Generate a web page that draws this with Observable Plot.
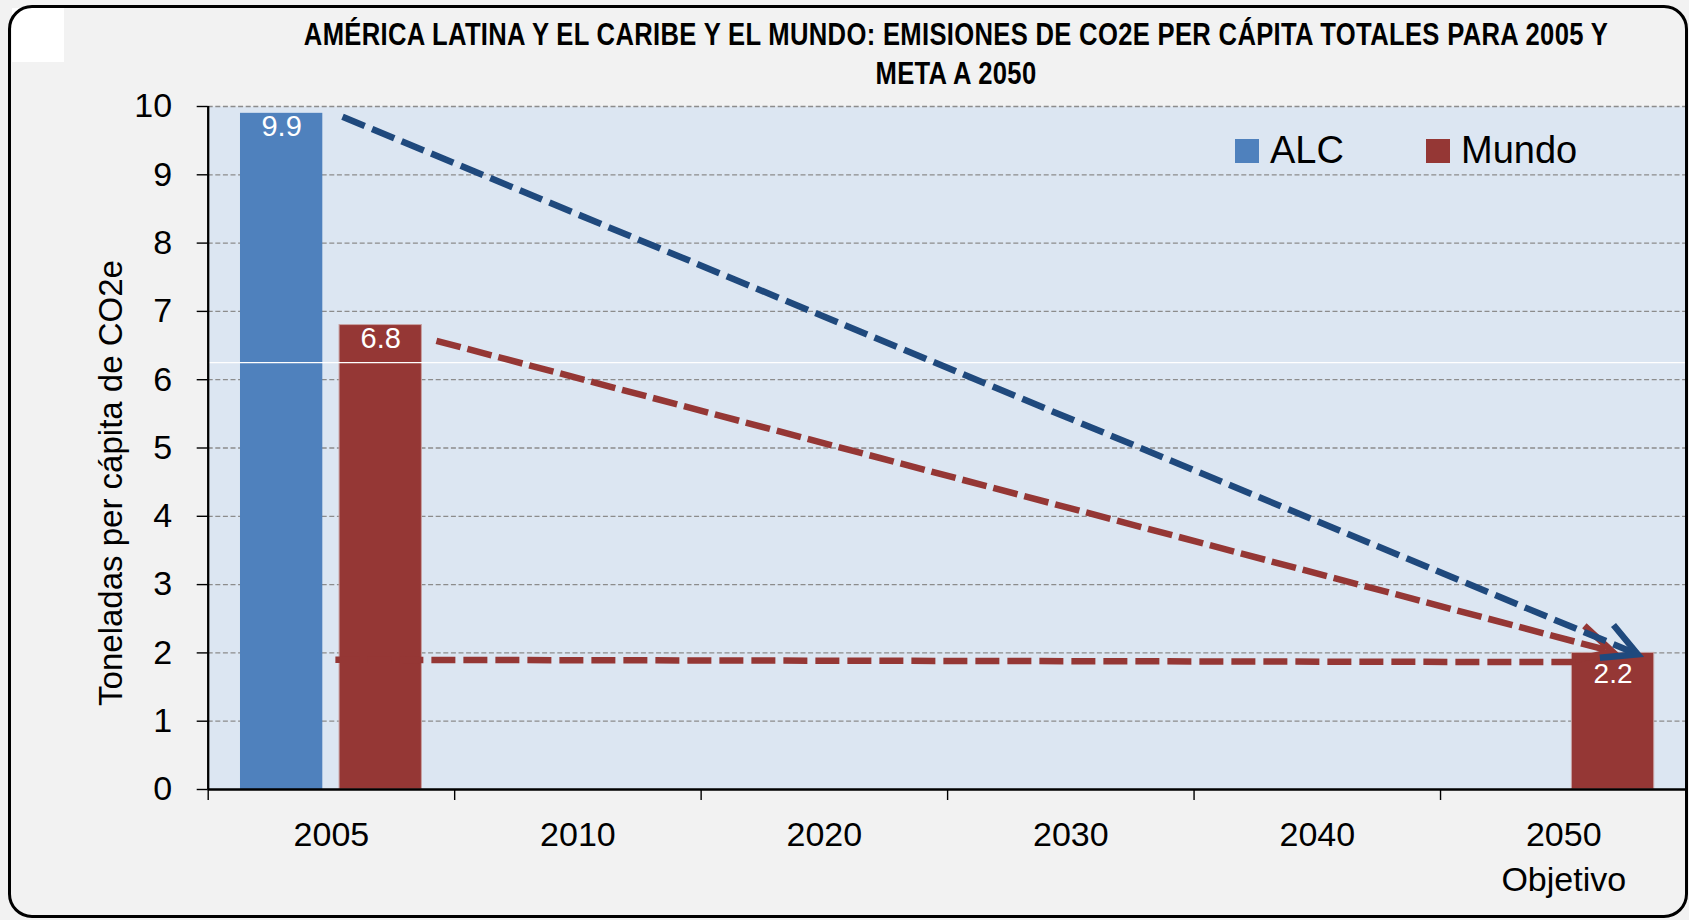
<!DOCTYPE html>
<html>
<head>
<meta charset="utf-8">
<script src="https://cdn.jsdelivr.net/npm/d3@7"></script>
<script src="https://cdn.jsdelivr.net/npm/@observablehq/plot@0.6"></script>
<style>
  html, body { margin: 0; padding: 0; background: #f2f2f2; overflow: hidden; }
  #wrap { position: relative; width: 1689px; height: 920px; background: #f2f2f2; overflow: hidden; }
  #chart { position: absolute; left: 0; top: 0; }
  .title-line { position: absolute; white-space: nowrap; font-weight: bold; color: #000; line-height: 1; }
  .legend-item { position: absolute; white-space: nowrap; line-height: 1; color: #000; }
  .swatch { position: absolute; width: 24px; height: 24px; }
  #border { position: absolute; left: 8px; top: 4.5px; width: 1680px; height: 913.5px; box-sizing: border-box;
            border: 3.5px solid #000; border-radius: 24px; pointer-events: none; }
  #patch { position: absolute; left: 11.5px; top: 8px; width: 52px; height: 54px; background: #fff; }
</style>
</head>
<body>
<div id="wrap">
  <div id="chart"></div>
</div>
<script>
// ---------- data ----------
const titleLines = [
  "AMÉRICA LATINA Y EL CARIBE Y EL MUNDO: EMISIONES DE CO2E PER CÁPITA TOTALES PARA 2005 Y",
  "META A 2050"
];
const yLabel = "Toneladas per cápita de CO2e";
const years = ["2005", "2010", "2020", "2030", "2040", "2050"];
const yearNotes = ["", "", "", "", "", "Objetivo"];
const series = ["ALC", "Mundo"];
const seriesColors = ["#4f81bd", "#953735"];
const alcValues   = [9.9, null, null, null, null, null];
const mundoValues = [6.8, null, null, null, null, 2.0];
const alcLabels   = ["9.9", "", "", "", "", ""];
const mundoLabels = ["6.8", "", "", "", "", "2.2"];
const yTicks = [0, 1, 2, 3, 4, 5, 6, 7, 8, 9, 10];

// dashed trend arrows: positions in year slots (0 = start of 2005 slot) and values
const trendSeries    = ["ALC", "Mundo", "Mundo"];
const trendColors    = ["#1f497d", "#953735", "#953735"];
const trendFromSlot  = [0.545, 0.926, 0.516];
const trendFromValue = [9.85, 6.57, 1.90];
const trendToSlot    = [5.80, 5.697, 5.535];
const trendToValue   = [1.98, 2.02, 1.865];
const trendHasHead   = [true, true, false];

// ---------- fonts ----------
const baseFont = '"Liberation Sans", Arial, sans-serif';
function textWidth(font) {
  const c = document.createElement("canvas").getContext("2d");
  c.font = font;
  return c.measureText("AMÉRICA LATINA Y EL CARIBE Y EL MUNDO 2005").width;
}
const wideW = textWidth('bold 40px "Liberation Sans"');
const narrow = ["Liberation Sans Narrow", "Arial Narrow"].find(n => {
  const w = textWidth(`bold 40px "${n}", "Liberation Sans"`);
  return w < wideW * 0.9;
});

// ---------- build rows ----------
const valuesBySeries = [alcValues, mundoValues];
const labelsBySeries = [alcLabels, mundoLabels];
const groupPad = 0.131, barW = 0.334, barGap = 0.068;
const bars = years.flatMap((yr, i) => series.map((s, j) => ({
  year: yr, slot: i, series: s, si: j,
  value: valuesBySeries[j][i], label: labelsBySeries[j][i]
}))).filter(d => d.value != null);
bars.forEach(d => {
  d.x1 = d.slot + groupPad + d.si * (barW + barGap);
  d.x2 = d.x1 + barW;
  d.xm = (d.x1 + d.x2) / 2;
});
const trends = trendSeries.map((s, i) => ({
  series: s, color: trendColors[i],
  x1: trendFromSlot[i], y1: trendFromValue[i],
  x2: trendToSlot[i], y2: trendToValue[i], head: trendHasHead[i]
}));

// open, solid (undashed) arrowhead marker
const svgNS = "http://www.w3.org/2000/svg";
function headMarker(color) {
  const m = document.createElementNS(svgNS, "marker");
  m.setAttribute("viewBox", "-50 -30 60 60");
  m.setAttribute("markerWidth", 60);
  m.setAttribute("markerHeight", 60);
  m.setAttribute("refX", 0);
  m.setAttribute("refY", 0);
  m.setAttribute("markerUnits", "userSpaceOnUse");
  m.setAttribute("orient", "auto");
  m.setAttribute("overflow", "visible");
  const p = document.createElementNS(svgNS, "path");
  p.setAttribute("d", "M-33.6,-17.8L0,0L-33.6,17.8");
  p.setAttribute("fill", "none");
  p.setAttribute("stroke", color);
  p.setAttribute("stroke-width", 6.5);
  p.setAttribute("stroke-dasharray", "none");
  p.setAttribute("stroke-linejoin", "miter");
  p.setAttribute("stroke-miterlimit", 10);
  p.setAttribute("stroke-linecap", "butt");
  m.appendChild(p);
  return m;
}

const slotEdges = d3.range(0, years.length + 1);
const slotCenters = years.map((_, i) => i + 0.5);

const chart = Plot.plot({
  width: 1689,
  height: 920,
  marginTop: 106,
  marginRight: 2.5,
  marginBottom: 131,
  marginLeft: 207.7,
  x: {type: "linear", domain: [0, years.length]},
  y: {domain: [0, 10]},
  color: {domain: series, range: seriesColors},
  style: {background: "transparent", fontFamily: baseFont, color: "#000", overflow: "visible"},
  marks: [
    Plot.frame({fill: "#dce6f2", stroke: null}),
    Plot.ruleY(yTicks.filter(v => v > 0), {stroke: "#8c8c8c", strokeWidth: 1.3, strokeDasharray: "5,2.6"}),
    Plot.rectY(bars, {
      x1: "x1", x2: "x2", y: "value", fill: "series",
      stroke: d => d.series === "Mundo" ? "#c7a2a2" : "none", strokeWidth: 1
    }),
    Plot.text(bars.filter(d => d.slot === 0), {
      x: "xm", y: "value", text: "label", fill: "#fff", fontSize: 29,
      lineAnchor: "top", dy: 2.5
    }),
    Plot.text(bars.filter(d => d.slot !== 0), {
      x: "xm", y: "value", text: "label", fill: "#fff", fontSize: 28,
      lineAnchor: "top", dy: 10
    }),
    Plot.ruleY([6.25], {stroke: "#fff", strokeWidth: 1.2}),
    Plot.link(trends.filter(d => !d.head), {
      x1: "x1", y1: "y1", x2: "x2", y2: "y2", stroke: "color",
      strokeWidth: 6.5, strokeDasharray: "24,8"
    }),
    Plot.link(trends.filter(d => d.head && d.series === "Mundo"), {
      x1: "x1", y1: "y1", x2: "x2", y2: "y2", stroke: "color",
      strokeWidth: 6.5, strokeDasharray: "25,7", markerEnd: headMarker
    }),
    Plot.link(trends.filter(d => d.head && d.series === "ALC"), {
      x1: "x1", y1: "y1", x2: "x2", y2: "y2", stroke: "color",
      strokeWidth: 6.5, strokeDasharray: "24,8", markerEnd: headMarker
    }),
    Plot.ruleX([0], {stroke: "#000", strokeWidth: 2.3}),
    Plot.ruleY([0], {stroke: "#000", strokeWidth: 2.7}),
    Plot.axisY({
      ticks: yTicks, tickSize: 11, tickPadding: 25, fontSize: 34,
      tickFormat: d3.format("d"), label: null, strokeWidth: 1.4
    }),
    Plot.axisX({
      ticks: slotEdges, tickSize: 11, tickFormat: () => "", label: null, strokeWidth: 1.4
    }),
    Plot.axisX({
      ticks: slotCenters, tickSize: 0, tickPadding: 24, fontSize: 34, lineHeight: 1.34,
      tickFormat: v => {
        const i = Math.round(v - 0.5);
        return yearNotes[i] ? years[i] + "\n" + yearNotes[i] : years[i];
      },
      label: null
    }),
    Plot.text([yLabel], {
      frameAnchor: "left", textAnchor: "middle", rotate: -90, dx: -97, dy: 35,
      fontSize: 33, fill: "#000"
    })
  ]
});
document.getElementById("chart").appendChild(chart);

// ---------- title (HTML, above the plot area) ----------
const wrap = document.getElementById("wrap");
const titleFont = narrow ? `"${narrow}", ${baseFont}` : baseFont;
const titleSize = 32;
const titleBaselines = [45, 84];
titleLines.forEach((t, i) => {
  const d = document.createElement("div");
  d.className = "title-line";
  d.textContent = t;
  d.style.fontFamily = titleFont;
  d.style.fontSize = titleSize + "px";
  d.style.letterSpacing = "0.4px";
  d.style.left = "956px";
  d.style.top = (titleBaselines[i] - 0.8465 * titleSize) + "px";
  d.style.transformOrigin = "0 50%";
  d.style.transform = narrow ? "translateX(-50%)" : "scaleX(0.8) translateX(-50%)";
  wrap.appendChild(d);
});

// ---------- legend ----------
const legendSwatchX = [1235, 1426];
const legendSize = 38;
series.forEach((s, i) => {
  const sw = document.createElement("div");
  sw.className = "swatch";
  sw.style.background = seriesColors[i];
  sw.style.left = legendSwatchX[i] + "px";
  sw.style.top = "139.3px";
  wrap.appendChild(sw);
  const t = document.createElement("div");
  t.className = "legend-item";
  t.textContent = s;
  t.style.fontFamily = baseFont;
  t.style.fontSize = legendSize + "px";
  t.style.left = (legendSwatchX[i] + 35) + "px";
  t.style.top = (163.3 - 0.8465 * legendSize) + "px";
  wrap.appendChild(t);
});

const patch = document.createElement("div"); patch.id = "patch"; wrap.appendChild(patch);
const border = document.createElement("div"); border.id = "border"; wrap.appendChild(border);
</script>
</body>
</html>
